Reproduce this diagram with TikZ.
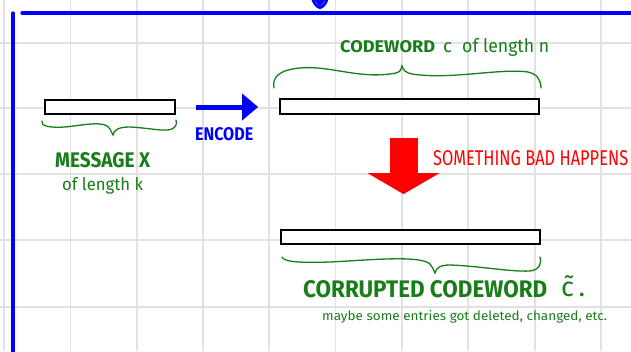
\documentclass[tikz,border=0pt]{standalone}
\usepackage{fontspec}
\setmainfont{Fira Sans}
\usetikzlibrary{arrows.meta}
\definecolor{hgreen}{RGB}{25,125,25}
\definecolor{hblue}{RGB}{0,0,250}
\definecolor{hred}{RGB}{255,0,0}
\definecolor{gridc}{RGB}{226,226,226}
\newcommand{\fitt}[3]{\resizebox{#1pt}{#2pt}{#3}}
\begin{document}
\begin{tikzpicture}[x=1pt,y=-1pt,
  bar/.style={draw=black, fill=white, line width=1.8pt, inner sep=0pt, minimum height=14pt},
  lbl/.style={inner sep=0pt, anchor=base west, text=hgreen},
  gridline/.style={draw=gridc, line width=1.5pt},
  framel/.style={draw=hblue, line width=3.2pt, line cap=round},
  brace/.style={draw=hgreen, line width=1.3pt, line cap=round},
  encarrow/.style={draw=hblue, line width=5pt, -{Triangle[length=16pt,width=27pt,line width=0pt]}},
  badarrow/.style={draw=hred, line width=28pt, -{Triangle[length=21pt,width=72pt,line width=0pt]}}
]
\useasboundingbox (0,0) rectangle (631,351);
\fill[white] (0,0) rectangle (631,351);
% grid
\foreach \gx in {4,70.5,137,203,269,335.5,402,468,535,601}
  \draw[gridline] (\gx,0) -- (\gx,351);
\foreach \gy in {43,108,174,240,307}
  \draw[gridline] (0,\gy) -- (631,\gy);
% blue frame
\draw[framel] (22,13) -- (634,13);
\draw[framel] (13,13) -- (13,354);
\draw[hblue, line width=3pt, line cap=round, line join=round] (313,0) .. controls (315,4) and (317,7) .. (320,7.5) .. controls (323,7) and (326,3) .. (327,-1);
\fill[hblue] (315,0) .. controls (317,4) and (319,6) .. (320,6) .. controls (322,5) and (324,2) .. (325,0) -- cycle;
% bars
\node[bar, minimum width=130pt] (msg) at (110,107) {};
\node[bar, minimum width=259pt, minimum height=15pt] (cw) at (409.5,106.5) {};
\node[bar, minimum width=259pt] (cor) at (410.5,237) {};
% arrows
\draw[encarrow, shorten <=20pt, shorten >=21pt] (msg.east) -- (msg.east -| cw.west);
\draw[badarrow, shorten <=23pt, shorten >=35pt] ([xshift=-6pt]cw.south) -- ([xshift=-7pt]cor.north);
% braces
\draw[brace] (274,88) .. controls (272,78) and (278,70) .. (300,68) .. controls (330,65) and (360,80) .. (396,73) .. controls (400,72) and (402,69) .. (402,66) .. controls (403,70) and (406,73) .. (412,74) .. controls (450,80) and (500,68) .. (528,72) .. controls (537,74) and (541,80) .. (541,88);
\draw[brace] (42,121) .. controls (40,126) and (50,128) .. (65,127) .. controls (85,125) and (105,120) .. (110,129) .. controls (111,131) and (112,133) .. (113,135) .. controls (114,130) and (118,127) .. (130,127) .. controls (150,128) and (165,132) .. (172,129) .. controls (176,127) and (177,124) .. (176,120);
\draw[brace] (282,257) .. controls (284,262) and (300,263) .. (330,262) .. controls (370,260) and (420,255) .. (430,264) .. controls (433,268) and (434,271) .. (435,273) .. controls (436,268) and (440,265) .. (450,265) .. controls (480,266) and (510,272) .. (530,271) .. controls (540,270) and (542,262) .. (540,257);
% texts
\node[lbl] (cwt) at (340,52) {\fitt{95}{12}{\bfseries CODEWORD}};
\node[lbl] (cwc) at (443,52) {\fitt{9}{10}{c}};
\node[lbl] (cwl) at (462,52) {\fitt{87}{14}{of length n}};
\node[lbl, text=hblue] (enc) at (195,140) {\fitt{58}{13}{\bfseries ENCODE}};
\node[lbl] (msgt) at (55,167) {\fitt{95}{15}{\bfseries MESSAGE X}};
\node[lbl] (msgl) at (62,190) {\fitt{81}{13}{of length k}};
\node[lbl, text=hred] (bad) at (433,165) {\fitt{195}{15}{SOMETHING BAD HAPPENS}};
\node[lbl] (cort) at (303,297) {\fitt{244}{17}{\bfseries CORRUPTED CODEWORD}};
\node[lbl] (ctil) at (561,296) {\fontsize{27}{27}\selectfont\~{c}\,.};
\node[lbl] (note) at (322,320) {\fitt{285}{10}{maybe some entries got deleted, changed, etc.}};
\end{tikzpicture}
\end{document}
